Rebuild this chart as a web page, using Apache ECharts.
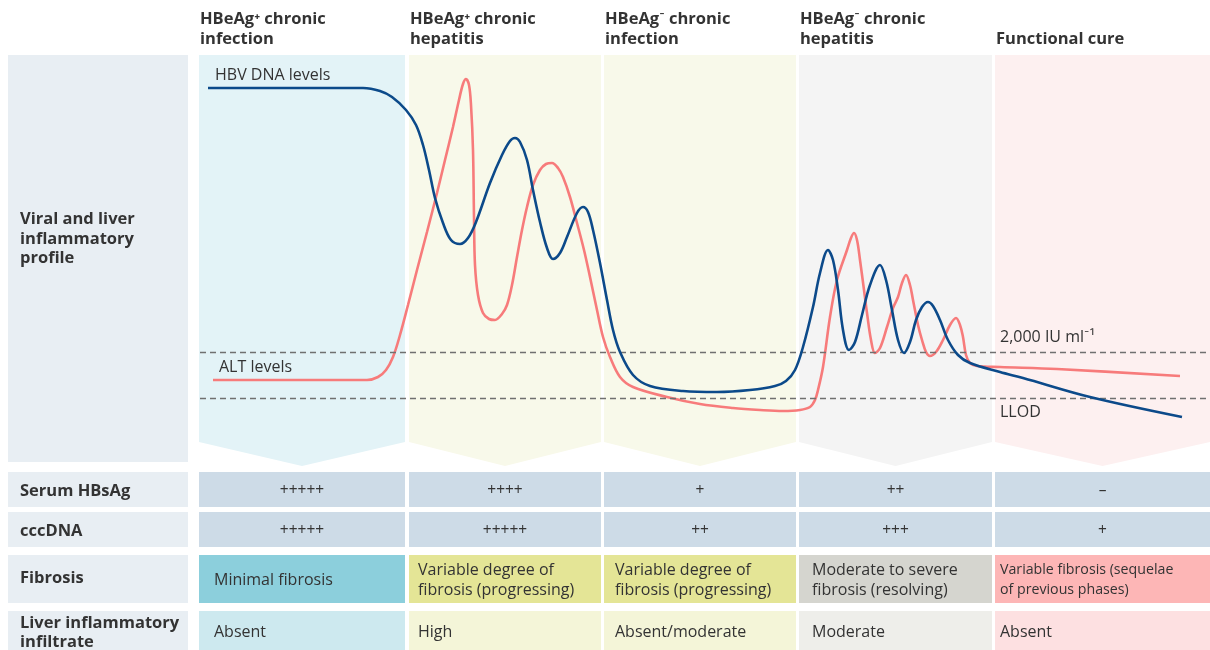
<!DOCTYPE html>
<html><head><meta charset="utf-8">
<script src="https://cdn.jsdelivr.net/npm/echarts@6/dist/echarts.min.js"></script>
<style>html,body{margin:0;padding:0;background:#fff}#c{width:1210px;height:650px}</style>
</head><body><div id="c"></div>
<script>
// ---------- data ----------
const phases = ['HBeAg\u207A chronic\ninfection', 'HBeAg\u207A chronic\nhepatitis', 'HBeAg\u207B chronic\ninfection', 'HBeAg\u207B chronic\nhepatitis', 'Functional cure'];
const profileLabel = 'Viral and liver\ninflammatory\nprofile';
const rowLabels = ['Serum HBsAg', 'cccDNA', 'Fibrosis', 'Liver inflammatory\ninfiltrate'];
const serumHBsAg = ['+++++', '++++', '+', '++', '\u2013'];
const cccDNA = ['+++++', '+++++', '++', '+++', '+'];
const fibrosis = ['Minimal fibrosis', 'Variable degree of\nfibrosis (progressing)', 'Variable degree of\nfibrosis (progressing)', 'Moderate to severe\nfibrosis (resolving)', 'Variable fibrosis (sequelae\nof previous phases)'];
const infiltrate = ['Absent', 'High', 'Absent/moderate', 'Moderate', 'Absent'];
const seriesNames = ['HBV DNA levels', 'ALT levels'];
const thresholdNames = ['2,000 IU ml\u207B\u00B9', 'LLOD'];
const thresholdValues = [22.5, 11];
// x: disease course (arbitrary units), y: relative level (arbitrary units)
const hbvDNA = [
  [0.8,88.5],[16.3,88.5],[18.0,87.75],[19.2,86.25],[20.6,83],[21.6,79.25],[22.3,74.25],[22.9,68],
  [23.5,61],[24.3,54.75],[25.1,50.5],[26.0,49.5],[26.8,51],[27.6,55],[29.0,64.75],[30.2,71.75],
  [31.0,75.25],[31.5,76],[32.0,75],[32.7,70.5],[33.3,63],[34.0,55],[34.7,48.5],[35.3,45.75],
  [36.0,47.25],[36.7,51.25],[37.7,57.25],[38.3,58.75],[38.8,57.5],[39.3,53],[40.0,44.75],[40.7,35.5],
  [41.3,28],[42.0,22.5],[43.3,16.75],[45.0,14],[48.3,12.75],[51.7,12.5],[55.0,13],[57.5,14],
  [58.6,15.25],[59.5,18],[60.3,23.75],[61.3,33.75],[62.0,42.25],[62.8,48],[63.3,45.5],[63.8,38],
  [64.3,28],[64.9,23],[65.5,25],[66.2,31.75],[67.0,39.25],[68.0,44.25],[68.6,40.5],[69.2,33],
  [69.8,25.5],[70.4,22.25],[71.0,25],[71.6,30.5],[72.2,33.75],[72.8,35],[73.3,34],[74.0,30.5],
  [74.8,25.5],[75.8,21.75],[77.0,19.75],[80.0,17.5],[82.3,16],[89.0,11.25],[98.2,6.25]
];
const alt = [
  [1.3,15.5],[16.7,15.5],[17.8,16.25],[18.6,18],[19.3,21.25],[20.0,26.75],[20.8,34.25],[21.7,43],
  [22.7,52.5],[23.7,62.25],[24.5,70.5],[25.3,78.75],[25.9,85.5],[26.3,89.5],[26.6,90.75],[26.9,89.25],
  [27.1,84.25],[27.3,73],[27.4,56.25],[27.5,44.25],[27.8,36.75],[28.3,32.25],[28.9,30.75],[29.5,30.5],
  [30.2,32],[30.7,34.25],[31.2,39.25],[31.7,46.25],[32.2,53],[32.7,58.75],[33.3,64.25],[34.0,68],
  [34.6,69.5],[35.2,69.75],[35.8,68.5],[36.3,66.25],[37.0,61.25],[37.7,54.75],[38.4,48],[39.0,41.25],
  [39.7,33],[40.3,26.25],[41.0,21.25],[42.0,16.25],[43.3,13.75],[46.7,11.25],[50.0,9.5],[53.3,8.5],
  [56.0,8],[58.3,7.75],[60.0,8],[61.0,8.75],[61.5,10.5],[61.8,13],[62.3,18.75],[63.0,31.25],
  [63.7,40.5],[64.7,48],[65.1,51],[65.4,52.25],[65.7,50.5],[66.0,45.5],[66.4,38],[66.7,32.25],
  [67.1,25.5],[67.5,22.25],[68.0,23.5],[68.7,28.75],[69.3,33.5],[69.8,36.25],[70.2,39.75],[70.6,41.75],
  [71.0,39.25],[71.3,35.5],[71.8,29.25],[72.2,25.5],[72.6,22.5],[73.0,21.5],[73.6,22.5],[74.3,25.5],
  [75.0,29.25],[75.6,31],[76.0,29.25],[76.3,26.25],[76.6,21.75],[77.0,19.75],[77.7,19],[80.0,18.75],
  [85.7,18.25],[98.0,16.5]
];

// ---------- layout & style ----------
const FONT = '"Open Sans", Lato, "DejaVu Sans", sans-serif';
const TXT = '#333333';
const cols = [[199,405],[409,601],[604,796],[799,992],[995,1210]];
const panelTop = 55, panelBottom = 442, chevronTip = 466;
const panelColors = ['#e3f3f7', '#f8f9ea', '#f8f9ea', '#f4f4f4', '#fdf0f0'];
const fibColors = ['#8ccfdc', '#e4e596', '#e4e596', '#d5d5cf', '#fdb6b6'];
const infColors = ['#cde9ef', '#f4f5d8', '#f4f5d8', '#eeeeea', '#fde0e1'];
const plusColor = '#cddbe7';
const labelBg = '#e8eef3';
const rows = [[472,507],[512,547],[555,603],[611,660]];
const rowTextY = [491, 531, 580, 633];
const textX = [214, 418, 615, 812, 1000];
const fibFont = ['16px ', '16px ', '16px ', '16px ', '14.2px '];

const g = [];
// left label column
g.push({type:'rect', shape:{x:8,y:panelTop,width:180,height:462-panelTop}, style:{fill:labelBg}, z:0});
g.push({type:'text', style:{text:profileLabel, x:20, y:239, font:'bold 16.5px '+FONT, fill:TXT, textVerticalAlign:'middle', lineHeight:19.5}, z:1});
rows.forEach((r,i)=>{
  g.push({type:'rect', shape:{x:8,y:r[0],width:180,height:r[1]-r[0]}, style:{fill:labelBg}, z:0});
  g.push({type:'text', style:{text:rowLabels[i], x:20, y:rowTextY[i]-(i===2?2:0), font:'bold 16.5px '+FONT, fill:TXT, textVerticalAlign:'middle', lineHeight:18.5}, z:1});
});
// phase panels (chevrons), headers, table cells
cols.forEach((c,i)=>{
  const [x0,x1] = c, xm=(x0+x1)/2;
  g.push({type:'polygon', shape:{points:[[x0,panelTop],[x1,panelTop],[x1,panelBottom],[xm,chevronTip],[x0,panelBottom]]}, style:{fill:panelColors[i]}, z:0});
  g.push({type:'text', style:{text:phases[i], x:x0+1, y:49, font:'bold 16.5px '+FONT, fill:TXT, textVerticalAlign:'bottom', lineHeight:20}, z:1});
  const cells = [[serumHBsAg[i], plusColor, 'center'], [cccDNA[i], plusColor, 'center'], [fibrosis[i], fibColors[i], 'left'], [infiltrate[i], infColors[i], 'left']];
  cells.forEach((cell,j)=>{
    const r = rows[j];
    g.push({type:'rect', shape:{x:x0,y:r[0],width:x1-x0,height:r[1]-r[0]}, style:{fill:cell[1]}, z:0});
    const cy = j===3 ? 632 : rowTextY[j];
    const font = j<2 ? '15.5px ' : (j===2 ? fibFont[i] : '16px ');
    g.push({type:'text', style:{text:cell[0], x: cell[2]==='center'? xm : textX[i], y:cy, font: font+FONT, fill:TXT, textAlign:cell[2], textVerticalAlign:'middle', lineHeight:20}, z:1});
  });
});
// in-plot labels
g.push({type:'text', style:{text:seriesNames[0], x:215, y:75, font:'16px '+FONT, fill:TXT, textVerticalAlign:'middle'}, z:3});
g.push({type:'text', style:{text:seriesNames[1], x:219, y:367, font:'16px '+FONT, fill:TXT, textVerticalAlign:'middle'}, z:3});
g.push({type:'text', style:{text:thresholdNames[0], x:1000, y:337, font:'16px '+FONT, fill:TXT, textVerticalAlign:'middle'}, z:3});
g.push({type:'text', style:{text:thresholdNames[1], x:1000, y:412, font:'16px '+FONT, fill:TXT, textVerticalAlign:'middle'}, z:3});

const chart = echarts.init(document.getElementById('c'), null, {renderer:'canvas'});
chart.setOption({
  animation:false,
  backgroundColor:'#ffffff',
  grid:{left:200, top:42, width:1010, height:400},
  xAxis:{type:'value', min:0, max:101, show:false},
  yAxis:{type:'value', min:0, max:100, show:false},
  graphic:{elements:g},
  series:[
    {name:seriesNames[1], type:'line', data:alt, smooth:0.35, symbol:'none', z:4,
     lineStyle:{color:'#f77b7b', width:2.6},
     markLine:{silent:true, symbol:'none', label:{show:false},
       lineStyle:{color:'#707070', type:[6,4], width:1.3},
       data:thresholdValues.map(v=>({yAxis:v}))}},
    {name:seriesNames[0], type:'line', data:hbvDNA, smooth:0.35, symbol:'none', z:5,
     lineStyle:{color:'#0c4a8a', width:2.6}}
  ]
});
</script></body></html>
